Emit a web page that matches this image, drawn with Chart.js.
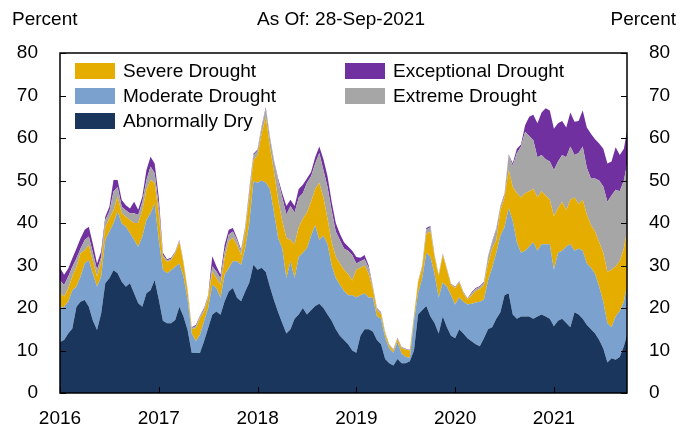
<!DOCTYPE html>
<html>
<head>
<meta charset="utf-8">
<script src="https://cdn.jsdelivr.net/npm/chart.js@4.4.1/dist/chart.umd.min.js"></script>
<style>html,body{margin:0;background:#fff}canvas{display:block}</style>
</head>
<body>
<canvas id="chart" width="682" height="426"></canvas>
<script>
'use strict';
const FONT = '"Liberation Sans", Arial, sans-serif';

// half-monthly readings, Jan 2016 .. end Sep 2021 (percent of area)
const startYear = 2016, perYear = 24;
const lastDate = 2021.74;
const yearTicks = [2016, 2017, 2018, 2019, 2020, 2021];
const percentTicks = [0, 10, 20, 30, 40, 50, 60, 70, 80];

const abnormallyDry = [
  12,12.5,14,15.2,20.3,21.5,21.9,20.3,17,14.8,18.7,25.8,27,28.9,28.2,26.2,25,25.8,23.5,21.1,20.3,23.5,24.2,26.6,
  22,17,16.4,16.4,17.2,20.3,18,14.8,9.5,9.4,9.4,12.2,15.3,18.4,19.2,18.4,21.6,23.9,24.7,22.4,21.6,23.9,26,30.2,
  29,29.5,28.5,25,21.8,19,16.5,14,15,17.5,18.5,20,18.5,19.5,20.5,21,20,18.5,17,15,13.5,12.5,11.5,10,
  9.5,13.5,15,15,14.5,12.5,11.5,8,7,6.5,8,7,7,7.5,10,18.5,19.5,20.5,18,16.5,14,18,15.5,13.5,
  12.9,15,14,12.9,12.2,11.5,11,12.9,15,15.5,17.5,19,23,23.5,18.5,17.5,18,18,18,17.5,18,18.5,18,17.5,
  15.7,17,17.5,16.5,15.5,19,18.5,17.5,16,15,14,12.5,10.5,7.2,8.2,7.8,8.5,11,14.5
];
const moderateDrought = [
  8,7.8,7.5,9,4.7,5.9,8.6,11,11,10.2,8.7,10.2,11,11,14.5,13.7,14.1,11.8,12.5,13.3,16.5,17.2,18.1,18,
  14,12,11.8,12.5,12.5,10.2,9.4,7.2,4.5,2.8,4.3,4.7,4.7,7.1,5.5,4,6.2,5.5,6.3,8.6,8.6,10.2,14,19.6,
  20.5,20.5,21,23,20.7,17.5,17.5,13,16,9.5,13.5,13,15.5,17.5,19,15,17,16.5,13,12,12,11.5,11.5,13,
  13,9.5,8.5,7.5,8,5.5,6,5,3.5,3,4,2.3,1.5,0.8,7,5,7.5,12.5,14,11.5,8.5,8,9.5,9.5,
  7.9,7.5,7.5,7.9,8.8,9.8,10.5,9.1,11.5,14,15.5,18,16,20,22,18,15,15.5,16.5,18,15.5,16.5,17,17.5,
  13.3,16,16,18,19.5,14.5,15.5,16,14.5,14.5,14,12.5,11,9.3,7.3,10.2,10.8,10.5,12
];
const severeDrought = [
  3.5,2.4,3.1,3.2,4.7,5.5,3.1,3.5,3,2.4,3.5,3.1,3.1,3.1,3.5,2.4,2.4,3.1,4,5.6,6.2,7.1,7.8,4.8,
  6,3,2.7,2.4,3.2,5.1,3.1,2,1,3.1,3.9,2.3,2.4,3.1,2.3,3.1,4,6.3,5.5,3.9,2.3,3.9,6,4.9,
  6.5,11,15.5,10,9.5,9,6.5,9.5,5,8,7,8,8.5,8,8.5,13.5,9,6,5.5,5,5,5,5,3.5,
  6.5,6.5,6.5,5.5,2,1.5,1,1,0.7,0.5,0.7,1.2,1.7,1.7,1,2.5,2.5,4.5,6,4,5,6.5,4,2.5,
  3.9,3.5,2,1.2,2,2.7,3,3.5,4,4.5,3,6,7,9,8,11.5,13,13.5,13,12.5,12.5,12.5,11.5,10.5,
  12.6,10.5,11.5,8.5,10.5,12.5,10.5,12,11.5,10,10,10.5,11.5,12,13.5,11.8,11.7,12.5,13
];
const extremeDrought = [
  3,2.7,2.8,2.3,2,1.1,2.4,2,2,1.6,1.1,1.6,1.6,4.4,2.3,1.5,1.5,1.6,2.3,1.9,2,2.3,3.2,2.3,
  2,0.5,0.3,0.3,0.2,0.2,0.2,0.2,0.3,0.4,0.4,0.5,0.4,1.2,1.6,1.5,1.5,1.6,1.5,1.1,0.8,0.8,1.5,1.3,
  1,1.5,2,2,2.5,4.5,5.5,5.5,8,7.5,7,6,7,6,6,7,6.5,7.5,7.5,6,5.5,5,5.5,6,
  1.5,1.5,1.5,1.5,0.5,0.3,0.3,0.2,0.2,0.2,0.2,0.2,0.1,0.1,0.2,0.2,0.3,1,1,0.3,0.2,0.2,0.2,0.1,
  0.2,0.2,0.2,0.2,0.5,0.5,0.5,0.5,1.5,1.5,2.5,0.8,0.5,3.5,5,9.5,12,14.5,13,11.5,9.5,8.5,8.5,9,
  10.9,11,11,12.5,12.5,10,12,12.5,11,11,12.5,14.5,15.6,16.5,17.5,18,16.5,16,15.5
];
const exceptionalDrought = [
  3,2.4,1.9,2,2.3,2.4,2.4,2.3,2,1.5,1.3,0.8,1.1,2.7,1.6,1.6,1.2,1.1,2.7,1.2,1.2,2.4,2.3,2.3,
  2,0.5,0.3,0.2,0.2,0.2,0.2,0.2,0.2,0.3,0.2,0.3,0.2,2.4,1.2,0.8,1.6,1.1,0.8,0.5,0.4,0.4,0.5,0.3,
  0.3,0.3,0.3,0.3,0.2,0.5,1,2,1.5,1.5,2,2,1,1,1.5,1.5,2.5,2.5,2,2,1.5,1.5,1,1,
  1.5,0.8,1,0.5,0.2,0.2,0.2,0.1,0.1,0.1,0.1,0.1,0.1,0.1,0.1,0.1,0.2,0.3,0.3,0.2,0.1,0.1,0.1,0.1,
  0.1,0.1,0.1,0.1,0.2,0.2,0.2,0.2,0.2,0.2,0.2,0.2,0.3,0.2,0.5,1,0.5,1.5,4.5,6,8,10,12,12,
  9.7,9,8,7,8,7.8,7.5,8.5,9.5,10.5,9.2,8.7,8.9,9,8,10,8.5,7.5,8
];
const dates = abnormallyDry.map((_, i) => startYear + i / perYear);

// bottom to top
const series = [
  { label: 'Abnormally Dry', data: abnormallyDry, color: '#1a365d' },
  { label: 'Moderate Drought', data: moderateDrought, color: '#7ba1ce' },
  { label: 'Severe Drought', data: severeDrought, color: '#e5ad00' },
  { label: 'Extreme Drought', data: extremeDrought, color: '#a6a6a6' },
  { label: 'Exceptional Drought', data: exceptionalDrought, color: '#7030a0' }
];
// legend slots: [series index, column, row]
const legendSlots = [[2,0,0],[1,0,1],[0,0,2],[4,1,0],[3,1,1]];

const decor = {
  id: 'decor',
  afterDraw(chart){
    const { ctx, chartArea: a, scales } = chart;
    ctx.save();
    ctx.fillStyle = '#000';
    ctx.font = `19px ${FONT}`;
    ctx.textBaseline = 'middle';
    ctx.textAlign = 'left';   ctx.fillText('Percent', 12, 20);
    ctx.textAlign = 'center'; ctx.fillText('As Of: 28-Sep-2021', 341, 20);
    ctx.textAlign = 'right';  ctx.fillText('Percent', 676, 20);

    ctx.strokeStyle = '#000';
    ctx.lineWidth = 1;
    ctx.beginPath();
    yearTicks.forEach(v => { const x = Math.round(scales.x.getPixelForValue(v)) + .5; ctx.moveTo(x, a.bottom); ctx.lineTo(x, a.bottom - 6); });
    percentTicks.forEach(v => { const y = Math.round(scales.y.getPixelForValue(v)) + .5;
      ctx.moveTo(a.left, y); ctx.lineTo(a.left + 6, y); ctx.moveTo(a.right, y); ctx.lineTo(a.right - 6, y); });
    ctx.stroke();
    ctx.lineWidth = 1.5;
    ctx.strokeRect(a.left, a.top, a.right - a.left, a.bottom - a.top);

    ctx.textAlign = 'left';
    legendSlots.forEach(([k, col, row]) => {
      const x = [75, 345][col], y = 63 + row * 25;
      ctx.fillStyle = series[k].color;
      ctx.fillRect(x, y, 40, 16);
      ctx.fillStyle = '#000';
      ctx.fillText(series[k].label, x + 48, y + 9);
    });
    ctx.restore();
  }
};

const tickFont = { family: FONT, size: 19 };
new Chart(document.getElementById('chart'), {
  type: 'line',
  data: {
    datasets: series.map((s, k) => ({
      label: s.label,
      data: s.data.map((v, i) => ({ x: dates[i], y: v })),
      backgroundColor: s.color,
      borderWidth: 0,
      pointRadius: 0,
      tension: 0,
      fill: k === 0 ? 'origin' : '-1'
    }))
  },
  options: {
    responsive: false,
    devicePixelRatio: 1,
    animation: false,
    layout: { padding: { top: 53, left: 0, right: 0, bottom: 0 } },
    plugins: { legend: { display: false }, tooltip: { enabled: false } },
    scales: {
      x: {
        type: 'linear', min: startYear, max: lastDate,
        grid: { display: false }, border: { display: false },
        afterBuildTicks: s => { s.ticks = yearTicks.map(v => ({ value: v })); },
        afterFit: s => { s.height = 33; },
        ticks: { font: tickFont, color: '#000', padding: 6, maxRotation: 0, autoSkip: false, callback: v => String(v) }
      },
      y: {
        stacked: true, min: 0, max: 80,
        grid: { display: false }, border: { display: false },
        afterFit: s => { s.width = 60; },
        ticks: { stepSize: 10, font: tickFont, color: '#000', padding: 14 }
      },
      y2: {
        position: 'right', min: 0, max: 80,
        grid: { display: false }, border: { display: false },
        afterFit: s => { s.width = 55; },
        ticks: { stepSize: 10, font: tickFont, color: '#000', padding: 14 }
      }
    }
  },
  plugins: [decor]
});
</script>
</body>
</html>
